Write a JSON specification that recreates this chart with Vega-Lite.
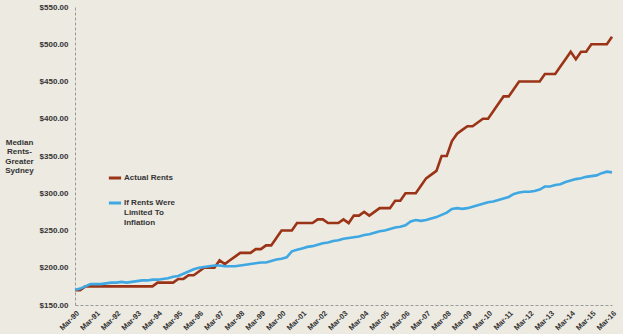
{
  "$schema": "https://vega.github.io/schema/vega-lite/v6.json",
  "width": 537,
  "height": 298,
  "padding": {"left": 4, "top": 3, "right": 5, "bottom": 5},
  "background": "#edeae2",
  "config": {
    "view": {"stroke": null},
    "font": "Liberation Sans"
  },
  "data": {
    "values": [
      {"q": "Mar-90", "Actual Rents": 170, "Inflation": 170},
      {"q": "Jun-90", "Actual Rents": 170, "Inflation": 172},
      {"q": "Sep-90", "Actual Rents": 175, "Inflation": 175},
      {"q": "Dec-90", "Actual Rents": 175, "Inflation": 178},
      {"q": "Mar-91", "Actual Rents": 175, "Inflation": 178},
      {"q": "Jun-91", "Actual Rents": 175, "Inflation": 178},
      {"q": "Sep-91", "Actual Rents": 175, "Inflation": 179},
      {"q": "Dec-91", "Actual Rents": 175, "Inflation": 180},
      {"q": "Mar-92", "Actual Rents": 175, "Inflation": 180},
      {"q": "Jun-92", "Actual Rents": 175, "Inflation": 181},
      {"q": "Sep-92", "Actual Rents": 175, "Inflation": 180},
      {"q": "Dec-92", "Actual Rents": 175, "Inflation": 181},
      {"q": "Mar-93", "Actual Rents": 175, "Inflation": 182},
      {"q": "Jun-93", "Actual Rents": 175, "Inflation": 183},
      {"q": "Sep-93", "Actual Rents": 175, "Inflation": 183},
      {"q": "Dec-93", "Actual Rents": 175, "Inflation": 184},
      {"q": "Mar-94", "Actual Rents": 180, "Inflation": 184},
      {"q": "Jun-94", "Actual Rents": 180, "Inflation": 185},
      {"q": "Sep-94", "Actual Rents": 180, "Inflation": 186},
      {"q": "Dec-94", "Actual Rents": 180, "Inflation": 188},
      {"q": "Mar-95", "Actual Rents": 185, "Inflation": 189},
      {"q": "Jun-95", "Actual Rents": 185, "Inflation": 192},
      {"q": "Sep-95", "Actual Rents": 190, "Inflation": 195},
      {"q": "Dec-95", "Actual Rents": 190, "Inflation": 198},
      {"q": "Mar-96", "Actual Rents": 195, "Inflation": 200},
      {"q": "Jun-96", "Actual Rents": 200, "Inflation": 201},
      {"q": "Sep-96", "Actual Rents": 200, "Inflation": 202},
      {"q": "Dec-96", "Actual Rents": 200, "Inflation": 203},
      {"q": "Mar-97", "Actual Rents": 210, "Inflation": 203},
      {"q": "Jun-97", "Actual Rents": 205, "Inflation": 202},
      {"q": "Sep-97", "Actual Rents": 210, "Inflation": 202},
      {"q": "Dec-97", "Actual Rents": 215, "Inflation": 202},
      {"q": "Mar-98", "Actual Rents": 220, "Inflation": 203},
      {"q": "Jun-98", "Actual Rents": 220, "Inflation": 204},
      {"q": "Sep-98", "Actual Rents": 220, "Inflation": 205},
      {"q": "Dec-98", "Actual Rents": 225, "Inflation": 206},
      {"q": "Mar-99", "Actual Rents": 225, "Inflation": 207},
      {"q": "Jun-99", "Actual Rents": 230, "Inflation": 207},
      {"q": "Sep-99", "Actual Rents": 230, "Inflation": 209},
      {"q": "Dec-99", "Actual Rents": 240, "Inflation": 211},
      {"q": "Mar-00", "Actual Rents": 250, "Inflation": 212},
      {"q": "Jun-00", "Actual Rents": 250, "Inflation": 214},
      {"q": "Sep-00", "Actual Rents": 250, "Inflation": 222},
      {"q": "Dec-00", "Actual Rents": 260, "Inflation": 224},
      {"q": "Mar-01", "Actual Rents": 260, "Inflation": 226},
      {"q": "Jun-01", "Actual Rents": 260, "Inflation": 228},
      {"q": "Sep-01", "Actual Rents": 260, "Inflation": 229},
      {"q": "Dec-01", "Actual Rents": 265, "Inflation": 231},
      {"q": "Mar-02", "Actual Rents": 265, "Inflation": 233},
      {"q": "Jun-02", "Actual Rents": 260, "Inflation": 234},
      {"q": "Sep-02", "Actual Rents": 260, "Inflation": 236},
      {"q": "Dec-02", "Actual Rents": 260, "Inflation": 237},
      {"q": "Mar-03", "Actual Rents": 265, "Inflation": 239},
      {"q": "Jun-03", "Actual Rents": 260, "Inflation": 240},
      {"q": "Sep-03", "Actual Rents": 270, "Inflation": 241},
      {"q": "Dec-03", "Actual Rents": 270, "Inflation": 242},
      {"q": "Mar-04", "Actual Rents": 275, "Inflation": 244},
      {"q": "Jun-04", "Actual Rents": 270, "Inflation": 245},
      {"q": "Sep-04", "Actual Rents": 275, "Inflation": 247},
      {"q": "Dec-04", "Actual Rents": 280, "Inflation": 249},
      {"q": "Mar-05", "Actual Rents": 280, "Inflation": 250},
      {"q": "Jun-05", "Actual Rents": 280, "Inflation": 252},
      {"q": "Sep-05", "Actual Rents": 290, "Inflation": 254},
      {"q": "Dec-05", "Actual Rents": 290, "Inflation": 255},
      {"q": "Mar-06", "Actual Rents": 300, "Inflation": 257},
      {"q": "Jun-06", "Actual Rents": 300, "Inflation": 262},
      {"q": "Sep-06", "Actual Rents": 300, "Inflation": 264},
      {"q": "Dec-06", "Actual Rents": 310, "Inflation": 263},
      {"q": "Mar-07", "Actual Rents": 320, "Inflation": 264},
      {"q": "Jun-07", "Actual Rents": 325, "Inflation": 266},
      {"q": "Sep-07", "Actual Rents": 330, "Inflation": 268},
      {"q": "Dec-07", "Actual Rents": 350, "Inflation": 271},
      {"q": "Mar-08", "Actual Rents": 350, "Inflation": 274},
      {"q": "Jun-08", "Actual Rents": 370, "Inflation": 279},
      {"q": "Sep-08", "Actual Rents": 380, "Inflation": 280},
      {"q": "Dec-08", "Actual Rents": 385, "Inflation": 279},
      {"q": "Mar-09", "Actual Rents": 390, "Inflation": 280},
      {"q": "Jun-09", "Actual Rents": 390, "Inflation": 282},
      {"q": "Sep-09", "Actual Rents": 395, "Inflation": 284},
      {"q": "Dec-09", "Actual Rents": 400, "Inflation": 286},
      {"q": "Mar-10", "Actual Rents": 400, "Inflation": 288},
      {"q": "Jun-10", "Actual Rents": 410, "Inflation": 289},
      {"q": "Sep-10", "Actual Rents": 420, "Inflation": 291},
      {"q": "Dec-10", "Actual Rents": 430, "Inflation": 293},
      {"q": "Mar-11", "Actual Rents": 430, "Inflation": 295},
      {"q": "Jun-11", "Actual Rents": 440, "Inflation": 299},
      {"q": "Sep-11", "Actual Rents": 450, "Inflation": 301},
      {"q": "Dec-11", "Actual Rents": 450, "Inflation": 302},
      {"q": "Mar-12", "Actual Rents": 450, "Inflation": 302},
      {"q": "Jun-12", "Actual Rents": 450, "Inflation": 303},
      {"q": "Sep-12", "Actual Rents": 450, "Inflation": 305},
      {"q": "Dec-12", "Actual Rents": 460, "Inflation": 309},
      {"q": "Mar-13", "Actual Rents": 460, "Inflation": 309},
      {"q": "Jun-13", "Actual Rents": 460, "Inflation": 311},
      {"q": "Sep-13", "Actual Rents": 470, "Inflation": 312},
      {"q": "Dec-13", "Actual Rents": 480, "Inflation": 315},
      {"q": "Mar-14", "Actual Rents": 490, "Inflation": 317},
      {"q": "Jun-14", "Actual Rents": 480, "Inflation": 319},
      {"q": "Sep-14", "Actual Rents": 490, "Inflation": 320},
      {"q": "Dec-14", "Actual Rents": 490, "Inflation": 322},
      {"q": "Mar-15", "Actual Rents": 500, "Inflation": 323},
      {"q": "Jun-15", "Actual Rents": 500, "Inflation": 324},
      {"q": "Sep-15", "Actual Rents": 500, "Inflation": 327},
      {"q": "Dec-15", "Actual Rents": 500, "Inflation": 329},
      {"q": "Mar-16", "Actual Rents": 510, "Inflation": 328}
    ]
  },
  "transform": [
    {"fold": ["Actual Rents", "Inflation"], "as": ["series", "value"]}
  ],
  "mark": {"type": "line", "strokeWidth": 2.6, "interpolate": "linear"},
  "encoding": {
    "x": {
      "field": "q",
      "type": "ordinal",
      "sort": null,
      "scale": {"type": "point", "padding": 0},
      "axis": {
        "title": null,
        "values": ["Mar-90","Mar-91","Mar-92","Mar-93","Mar-94","Mar-95","Mar-96","Mar-97","Mar-98","Mar-99","Mar-00","Mar-01","Mar-02","Mar-03","Mar-04","Mar-05","Mar-06","Mar-07","Mar-08","Mar-09","Mar-10","Mar-11","Mar-12","Mar-13","Mar-14","Mar-15","Mar-16"],
        "labelAngle": -45,
        "labelFont": "Liberation Sans",
        "labelFontWeight": "bold",
        "labelFontSize": 7.5,
        "labelColor": "#333333",
        "labelPadding": 4,
        "ticks": false,
        "grid": false,
        "domainColor": "#9a9a9a",
        "domainDash": [3, 2],
        "domainWidth": 1
      }
    },
    "y": {
      "field": "value",
      "type": "quantitative",
      "scale": {"domain": [150, 550], "nice": false, "zero": false},
      "axis": {
        "title": ["Median", "Rents-", "Greater", "Sydney"],
        "titleAngle": 0,
        "titleAlign": "center",
        "titleBaseline": "middle",
        "titleX": -56,
        "titleY": 135,
        "titleFont": "Liberation Sans",
        "titleFontWeight": "bold",
        "titleFontSize": 8,
        "titleLineHeight": 9.5,
        "titleColor": "#333333",
        "values": [150, 200, 250, 300, 350, 400, 450, 500, 550],
        "format": "$,.2f",
        "labelFont": "Liberation Sans",
        "labelFontWeight": "bold",
        "labelFontSize": 8,
        "labelColor": "#333333",
        "labelPadding": 7,
        "ticks": false,
        "grid": false,
        "domainColor": "#9a9a9a",
        "domainDash": [3, 2],
        "domainWidth": 1
      }
    },
    "color": {
      "field": "series",
      "type": "nominal",
      "scale": {"domain": ["Actual Rents", "Inflation"], "range": ["#9b3317", "#3fa8e2"]},
      "legend": {
        "title": null,
        "orient": "none",
        "legendX": 32,
        "legendY": 163,
        "padding": 0,
        "symbolType": "stroke",
        "symbolStrokeWidth": 3,
        "symbolSize": 150,
        "labelFont": "Liberation Sans",
        "labelFontWeight": "bold",
        "labelFontSize": 8,
        "labelColor": "#333333",
        "labelOffset": 1,
        "labelBaseline": "middle",
        "rowPadding": 11,
        "labelExpr": "datum.label == 'Inflation' ? ['If Rents Were', 'Limited To', 'Inflation'] : datum.label"
      }
    }
  }
}
